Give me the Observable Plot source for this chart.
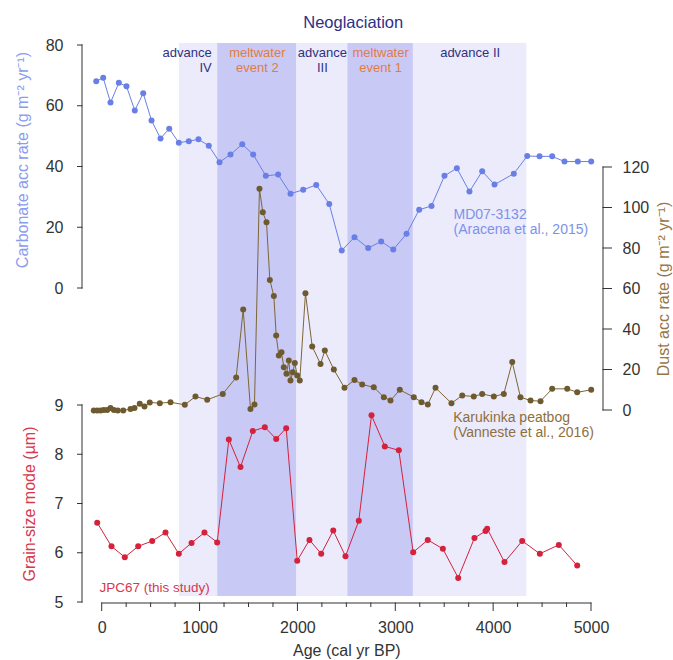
<!DOCTYPE html>
<html><head><meta charset="utf-8">
<script src="https://cdn.jsdelivr.net/npm/d3@7"></script>
<script src="https://cdn.jsdelivr.net/npm/@observablehq/plot@0.6"></script>
<style>
body{margin:0;background:#fff;}
#chart{position:relative;width:673px;height:660px;}
#chart svg{position:absolute;left:0;top:0;font-family:'Liberation Sans',Arial,Helvetica,sans-serif;font-size:16px;color:#333;}
</style></head><body><div id="chart"></div>
<script>
// ---- data ----
const carbAge = [-61,10,85,170,248,333,419,504,596,685,783,885,984,1089,1199,1311,1431,1543,1672,1798,1924,2054,2187,2320,2448,2578,2718,2851,2974,3110,3239,3365,3498,3624,3753,3883,4009,4206,4343,4469,4598,4724,4860,4997];
const carbVal = [68.2,69.4,61.2,67.7,66.6,58.6,64.3,55.3,49.4,52.6,48.0,48.5,49.1,47.0,41.6,44.1,47.5,44.1,37.1,37.5,31.2,32.5,34.1,27.8,12.5,16.9,13.3,15.5,12.8,18.0,25.9,27.2,37.1,39.6,31.9,38.6,34.2,37.8,43.6,43.5,43.5,41.8,41.8,41.8];

const dustAge = [-86,-51,-17,16,51,85,119,159,215,289,330,384,432,486,589,698,844,953,1073,1232,1369,1441,1515,1556,1607,1641,1679,1713,1754,1778,1805,1832,1856,1883,1907,1924,1948,1968,1993,2019,2077,2146,2231,2275,2367,2476,2578,2657,2775,2878,2946,3041,3184,3263,3327,3406,3569,3679,3797,3883,4002,4104,4190,4274,4377,4479,4598,4752,4854,4997];
const dustVal = [0,0,0,0.3,0.3,1.2,0.3,0,0,0.7,1.2,3.3,2.0,4.0,3.6,4.1,2.8,6.9,5.3,8.2,16.3,49.9,0.8,3.0,109.5,97.9,93.0,64.5,56.5,37.0,27.2,28.8,21.4,18.1,24.7,14.8,18.9,23.4,17.3,14.8,57.9,31.6,23.0,29.6,20.2,11.2,15.1,12.8,11.5,6.6,4.9,10.2,6.6,4.1,3.0,11.2,3.6,7.4,6.9,8.2,6.9,8.2,23.9,6.6,4.9,4.6,10.7,10.7,9.0,10.2];

const grainAge = [-51,95,231,368,511,647,783,913,1045,1175,1294,1413,1539,1662,1778,1880,1993,2118,2238,2361,2486,2622,2752,2888,3031,3178,3327,3481,3638,3804,3917,3934,4111,4292,4472,4666,4854];
const grainVal = [6.62,6.14,5.92,6.14,6.25,6.42,5.99,6.21,6.42,6.22,8.31,7.75,8.48,8.56,8.32,8.54,5.85,6.27,5.99,6.46,5.94,6.66,8.80,8.17,8.09,6.02,6.27,6.09,5.50,6.31,6.45,6.50,5.82,6.25,5.99,6.17,5.75];

const bandStart = [790,1180,1990,2510,3180];
const bandEnd   = [1180,1990,2510,3180,4340];
const bandType  = ["advance","meltwater","advance","meltwater","advance"];
const bandLabel = ["advance\nIV","meltwater\nevent 2","advance\nIII","meltwater\nevent 1","advance II"];

const xTicks = [0,1000,2000,3000,4000,5000];
const xMinorTicks = [250,500,750,1250,1500,1750,2250,2500,2750,3250,3500,3750,4250,4500,4750];
const carbTicks = [0,20,40,60,80];
const dustTicks = [0,20,40,60,80,100,120];
const grainTicks = [5,6,7,8,9];

const titleText = "Neoglaciation";
const xLabel = "Age (cal yr BP)";
const carbTitle = "Carbonate acc rate (g m\u207B\u00B2 yr\u207B\u00B9)";
const dustTitle = "Dust acc rate (g m\u207B\u00B2 yr\u207B\u00B9)";
const grainTitle = "Grain-size mode (\u00B5m)";
const carbLabel = "MD07-3132\n(Aracena et al., 2015)";
const dustLabel = "Karukinka peatbog\n(Vanneste et al., 2016)";
const grainLabel = "JPC67 (this study)";

// ---- tables ----
const carb = carbAge.map((a,i)=>({age:a, v:carbVal[i]}));
const dust = dustAge.map((a,i)=>({age:a, v:dustVal[i]}));
const grain = grainAge.map((a,i)=>({age:a, v:grainVal[i]}));
const bands = bandStart.map((s,i)=>({s, e:bandEnd[i], type:bandType[i], label:bandLabel[i]}));

// ---- layout & styles ----
const W = 673, H = 660;
const XR = [101.7, 591];
const BLUE = "#6a7fe6", BLUE_T = "#7d92ea";
const BROWN = "#6e5a2f", BROWN_L = "#7c6636", BROWN_T = "#8e6f3e";
const RED = "#d4213c", RED_T = "#d8374c";
const AX = "#333";

const host = document.getElementById("chart");
function layer(o){
  const svg = Plot.plot(Object.assign({width: W, height: H, style: {background: "transparent"}}, o));
  host.append(svg);
}
const xs = {domain: [0,5000], range: XR, axis: null};
const carbY = {domain: [0,80], range: [288,45], axis: null};
const dustY = {domain: [0,120], range: [410,167], axis: null};
const grainY = {domain: [5,9], range: [602,405], axis: null};

// Bands
layer({
  marginTop: 43, marginBottom: 64, marginLeft: 0, marginRight: 0,
  x: xs,
  color: {domain: ["advance","meltwater"], range: ["#ebebfc","#c9c9f6"]},
  marks: [
    Plot.rectX(bands, {x1: "s", x2: "e", fill: "type"}),
    Plot.text(bands.filter((d,i)=>i>0), {x: d=>(d.s+d.e)/2, text: "label", frameAnchor: "top", lineAnchor: "top", textAnchor: "middle", dy: 3,
      fontSize: 13, lineHeight: 1.15, fill: d=>d.type==="advance" ? "#30317e" : "#e07c45"}),
    Plot.text(bands.slice(0,1), {x: "e", text: "label", frameAnchor: "top", lineAnchor: "top", dy: 3, dx: -6,
      textAnchor: "end", fontSize: 13, lineHeight: 1.15, fill: "#30317e"}),
    Plot.text([titleText], {x: [(bandStart[0]+bandEnd[bandEnd.length-1])/2], text: d=>d, frameAnchor: "top",
      textAnchor: "middle", lineAnchor: "middle", dy: -21, fontSize: 16.5, fill: "#2e2f88"})
  ]
});

// Data layers
layer({marginTop: 45, marginBottom: H - 288, marginLeft: 82, marginRight: 0, x: xs, y: carbY, marks: [
  Plot.line(carb, {x: "age", y: "v", stroke: BLUE, strokeWidth: 1}),
  Plot.dot(carb, {x: "age", y: "v", r: 3, fill: BLUE}),
  Plot.text([carbLabel], {x: [3590], y: [22], text: d=>d, textAnchor: "start", lineAnchor: "middle",
    fontSize: 14, lineHeight: 1.1, fill: BLUE_T})
]});
layer({marginTop: 167, marginBottom: H - 410, marginLeft: 0, marginRight: W - 603, x: xs, y: dustY, marks: [
  Plot.line(dust, {x: "age", y: "v", stroke: BROWN_L, strokeWidth: 1}),
  Plot.dot(dust, {x: "age", y: "v", r: 3, fill: BROWN}),
  Plot.text([dustLabel], {x: [3587], y: [-6.9], text: d=>d, textAnchor: "start", lineAnchor: "middle",
    fontSize: 14, lineHeight: 1.1, fill: BROWN_T})
]});
layer({marginTop: 405, marginBottom: H - 602, marginLeft: 82, marginRight: 0, x: xs, y: grainY, marks: [
  Plot.line(grain, {x: "age", y: "v", stroke: RED, strokeWidth: 1}),
  Plot.dot(grain, {x: "age", y: "v", r: 3, fill: RED}),
  Plot.text([grainLabel], {x: [-27], y: [5.3], text: d=>d, textAnchor: "start", lineAnchor: "middle",
    fontSize: 13.5, fill: RED_T})
]});

// Axis layers: spine and ticks drawn as thin filled rects through each y scale
function spine(ticks, opts){ return Plot.rect([{lo: d3.min(ticks), hi: d3.max(ticks)}], Object.assign({y1: "lo", y2: "hi", fill: AX, insetTop: -0.5, insetBottom: -0.5}, opts)); }
function yTicks(ticks){ return Plot.rect(ticks, {y1: d=>d, y2: d=>d, insetTop: -0.5, insetBottom: -0.5, fill: AX}); }

// carbonate axis (frame spans tick length 77..82.5)
layer({marginTop: 45, marginBottom: H - 288, marginLeft: 77, marginRight: W - 82.5, x: xs, y: carbY, marks: [
  spine(carbTicks, {insetLeft: 4.5}),
  yTicks(carbTicks),
  Plot.axisY({ticks: carbTicks, tickSize: 0, tickPadding: 14, label: null}),
  Plot.text([carbTitle], {text: d=>d, frameAnchor: "left", textAnchor: "middle", rotate: -90, dx: -55, dy: -7, fontSize: 16, fill: "#8a9cf0"})
]});
// dust axis (frame spans 602.5..612)
layer({marginTop: 167, marginBottom: H - 410, marginLeft: 602.5, marginRight: W - 612, x: xs, y: dustY, marks: [
  spine(dustTicks, {insetRight: 8.5}),
  yTicks(dustTicks),
  Plot.axisY({anchor: "right", ticks: dustTicks, tickSize: 0, tickPadding: 10, label: null}),
  Plot.text([dustTitle], {text: d=>d, frameAnchor: "right", textAnchor: "middle", rotate: -90, dx: 51, fontSize: 16, fill: "#977645"})
]});
// grain axis
layer({marginTop: 405, marginBottom: H - 602, marginLeft: 77, marginRight: W - 82.5, x: xs, y: grainY, marks: [
  spine(grainTicks, {insetLeft: 4.5}),
  yTicks(grainTicks),
  Plot.axisY({ticks: grainTicks, tickSize: 0, tickPadding: 14, tickFormat: "d", label: null}),
  Plot.text([grainTitle], {text: d=>d, frameAnchor: "left", textAnchor: "middle", rotate: -90, dx: -48, fontSize: 16, fill: RED_T})
]});
// x axis (frame spans 602.5..611 vertically)
layer({
  marginTop: 602.5, marginBottom: H - 611, marginLeft: XR[0], marginRight: W - XR[1],
  x: {domain: [0,5000], range: XR},
  marks: [
    Plot.rect([{lo: d3.min(xTicks), hi: d3.max(xTicks)}], {x1: "lo", x2: "hi", insetLeft: -0.5, insetRight: -0.5, insetBottom: 7.5, fill: AX}),
    Plot.rect(xTicks, {x1: d=>d, x2: d=>d, insetLeft: -0.5, insetRight: -0.5, fill: AX}),
    Plot.rect(xMinorTicks, {x1: d=>d, x2: d=>d, insetLeft: -0.5, insetRight: -0.5, insetBottom: 4, fill: AX}),
    Plot.axisX({ticks: xTicks, tickSize: 0, tickPadding: 10, tickFormat: "d", label: null}),
    Plot.text([xLabel], {text: d=>d, frameAnchor: "bottom", textAnchor: "middle", dy: 39, lineAnchor: "middle", fontSize: 16})
  ]
});
</script></body></html>
